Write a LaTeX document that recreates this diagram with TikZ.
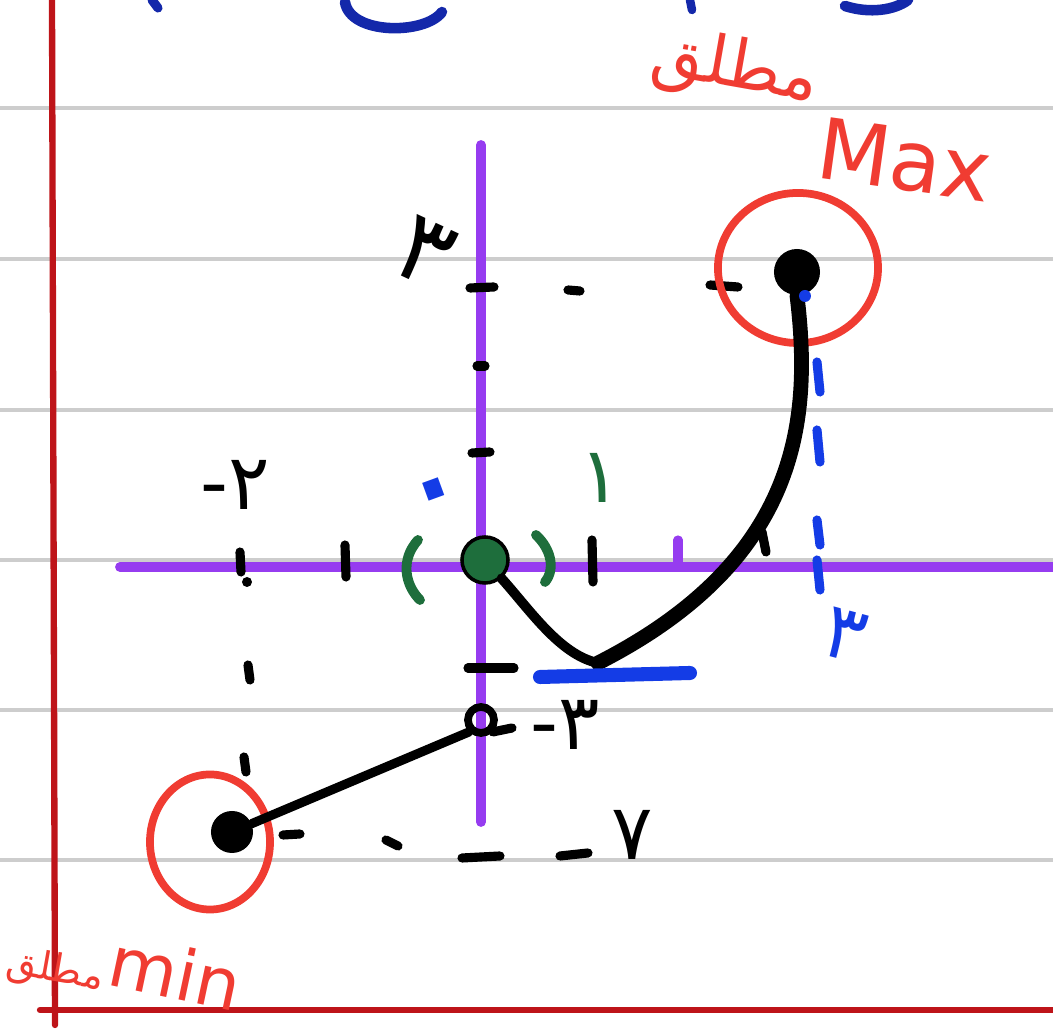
\documentclass[tikz,border=0pt]{standalone}
\usepackage{fontspec}
\usepackage{xcolor}
\usetikzlibrary{shapes.geometric, positioning, calc}
\TeXXeTstate=1
\newfontfamily\fa[Script=Arabic]{DejaVu Sans}
\setsansfont{DejaVu Sans}
\definecolor{marginRed}{RGB}{190, 20, 25}
\definecolor{penRed}{RGB}{240, 60, 50}
\definecolor{axisPurple}{RGB}{150, 60, 240}
\definecolor{penBlue}{RGB}{20, 60, 230}
\definecolor{darkBlue}{RGB}{20, 40, 170}
\definecolor{penGreen}{RGB}{30, 110, 60}
\definecolor{ruleGray}{RGB}{205, 205, 205}

\begin{document}
\begin{tikzpicture}[x=0.01cm, y=-0.01cm, line cap=round,
    ruled/.style={ruleGray, line width=0.9pt},
    axis/.style={axisPurple, line width=2.8pt},
    ink/.style={black, line width=2.6pt},
    dot/.style={circle, fill=black, inner sep=0pt, minimum size=0.46cm},
    ring/.style={ellipse, draw=penRed, line width=2.2pt, inner sep=0pt},
    digit/.style={font=\fa\fontsize{22}{22}\selectfont, inner sep=0pt},
    redtext/.style={text=penRed, font=\sffamily\fontsize{24}{24}\selectfont, inner sep=0pt}]
    \useasboundingbox (0,0) rectangle (1053,1031);
    % Notebook lines
    \foreach \y in {108,259,410,560,710,860} {
        \draw[ruled] (0,\y) -- (1053,\y);
    }
    \draw[marginRed, line width=1.8pt] (52,0) -- (55,1025);
    \draw[marginRed, line width=1.8pt] (40,1010) -- (1053,1010);

    % Cut-off strokes at the top
    \draw[darkBlue, line width=2.6pt] (152,0) -- (158,8);
    \draw[darkBlue, line width=3pt] (345,2) .. controls (350,35) and (425,35) .. (442,12);
    \draw[darkBlue, line width=2.4pt] (690,0) -- (692,10);
    \draw[darkBlue, line width=3pt] (845,6) .. controls (870,14) and (895,10) .. (908,0);

    % Axes
    \draw[axis] (120,567) -- (1053,567);
    \draw[axis] (481,145) -- (481,822);

    % Ticks on the y axis
    \draw[ink] (470,288) -- (494,287);
    \draw[ink] (477,366) -- (485,366);
    \draw[ink] (472,453) -- (490,452);
    \draw[ink] (468,668) -- (514,668);
    % Ticks on the x axis
    \draw[ink] (240,552) -- (241,572);
    \fill (247,582) circle (5);
    \draw[ink] (345,545) -- (346,577);
    \draw[ink] (592,540) -- (593,582);
    \draw[axisPurple, line width=2.6pt] (678,540) -- (678,566);

    % Dotted guides
    \draw[ink] (568,290) -- (580,291);
    \draw[ink] (710,285) -- (738,287);
    \foreach \x/\y in {248/665, 244/757} {
        \draw[ink] (\x,\y) -- (\x+2,\y+15);
    }
    \draw[ink] (283,835) -- (300,834);
    \draw[ink] (386,840) -- (398,846);
    \draw[ink] (462,858) -- (500,856);
    \draw[ink] (560,856) -- (588,853);

    % Origin
    \node[circle, fill=penGreen, draw=black, line width=1pt, inner sep=0pt, minimum size=0.46cm] (orig) at (485,560) {};
    \draw[penGreen, line width=2.8pt] (418,540) .. controls (400,560) and (405,585) .. (420,600);
    \draw[penGreen, line width=2.8pt] (536,535) .. controls (552,550) and (555,570) .. (545,582);
    \node[digit, text=penBlue, font=\fa\fontsize{44}{44}\selectfont, rotate=20] (zero) at (440,505) {۰};
    \node[digit, text=penGreen] (one) at (600,478) {۱};

    % Extreme points
    \node[dot] (maxpt) at (797,272) {};
    \node[ring, minimum width=1.6cm, minimum height=1.5cm] (maxring) at (798,268) {};
    \node[dot, minimum size=0.42cm] (minpt) at (232,832) {};
    \node[ring, minimum width=1.2cm, minimum height=1.35cm] (minring) at (210,842) {};
    \node[circle, draw=black, line width=2.2pt, inner sep=0pt, minimum size=0.26cm] (hole) at (481,720) {};

    % Graph
    \coordinate (bottom) at (598,663);
    \draw[ink, line width=4.2pt] (maxpt.south) .. controls (812,420) and (800,560) .. (bottom);
    \draw[ink, line width=2.8pt] (bottom) .. controls (560,655) and (530,610) .. (orig);
    \draw[ink] (762,532) -- (766,552);
    \draw[ink] (hole.south west) -- (minpt);
    \draw[ink] (hole.south east) -- (512,728);

    % Blue marks
    \fill[penBlue] (805,296) circle (6);
    \draw[penBlue, line width=4pt] (540,677) -- (690,673);
    \foreach \a/\b in {362/392, 430/462, 520/545, 560/590} {
        \draw[penBlue, line width=2.6pt] (817,\a) -- (820,\b);
    }

    % Numbers
    \node[digit, font=\fa\fontsize{28}{28}\selectfont, rotate=-25] (ythree) at (425,252) {۳};
    \node[digit, anchor=west] (mtwo) at (200,485) {{\sffamily -}۲};
    \node[digit, text=penBlue, rotate=-15] (xthree) at (845,635) {۳};
    \node[digit, anchor=west] (mthree) at (530,725) {{\sffamily -}۳};
    \node[digit] (mseven) at (632,835) {۷};

    % Red notes
    \node[redtext, font=\fa\fontsize{19}{19}\selectfont, rotate=-10] (absmax) at (735,70) {\beginR مطلق\endR};
    \node[redtext, rotate=-8] (maxlbl) at (905,160) {Max};
    \node[redtext, font=\fa\fontsize{11}{11}\selectfont, rotate=-10, anchor=east] (absmin) at (104,980) {\beginR مطلق\endR};
    \node[redtext, font=\sffamily\fontsize{20}{20}\selectfont, rotate=-12, anchor=west] (minlbl) at (110,958) {min};
\end{tikzpicture}
\end{document}
